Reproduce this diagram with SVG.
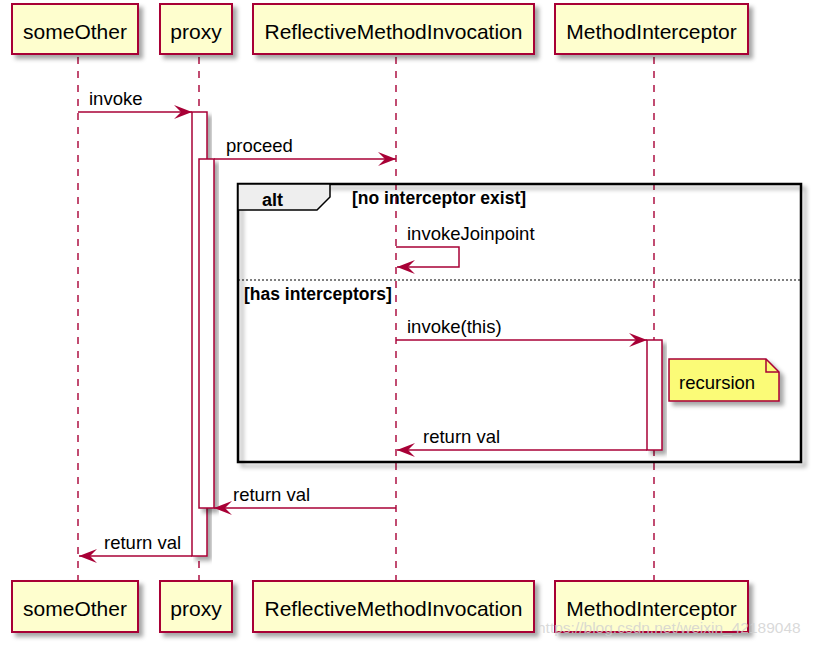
<svg xmlns="http://www.w3.org/2000/svg" width="817" height="646" viewBox="0 0 817 646">
<style>
.pbox{fill:#FEFECE;stroke:#A80036;stroke-width:2;filter:url(#sh)}
.ptxt{font-family:"Liberation Sans",Arial,sans-serif;font-size:21px;fill:#000;text-anchor:middle}
.life{stroke:#A80036;stroke-width:1.4;stroke-dasharray:7,7;fill:none}
.act{fill:#FFFFFF;stroke:#A80036;stroke-width:1.5;filter:url(#sh)}
.msg{stroke:#A80036;stroke-width:1.5;fill:none;marker-end:url(#ah)}
.mtxt{font-family:"Liberation Sans",Arial,sans-serif;font-size:18.5px;fill:#000}
.gtxt{font-family:"Liberation Sans",Arial,sans-serif;font-size:17.5px;font-weight:bold;fill:#000}
</style>
<defs>
<filter id="sh" x="-20%" y="-20%" width="150%" height="150%">
<feGaussianBlur in="SourceAlpha" stdDeviation="2"/>
<feOffset dx="4" dy="4" result="b"/>
<feFlood flood-color="#000" flood-opacity="0.35"/>
<feComposite in2="b" operator="in"/>
<feMerge><feMergeNode/><feMergeNode in="SourceGraphic"/></feMerge>
</filter>
<marker id="ah" viewBox="0 0 18 14" refX="18" refY="7" markerWidth="18" markerHeight="14" markerUnits="userSpaceOnUse" orient="auto">
<path d="M0,0 L18,7 L0,14 L7,7 Z" fill="#A80036"/>
</marker>
</defs>
<rect width="817" height="646" fill="#FFFFFF"/>

<g id="lifelines">
<line class="life" x1="78" y1="57" x2="78" y2="581"/>
<line class="life" x1="199" y1="57" x2="199" y2="581"/>
<line class="life" x1="396" y1="57" x2="396" y2="581"/>
<line class="life" x1="654" y1="57" x2="654" y2="581"/>
</g>

<g id="alt-frame">
<rect x="238" y="184" width="563" height="278" fill="none" stroke="#000" stroke-width="2.5" filter="url(#sh)"/>
<path d="M238,184 H330 V197 L317,210 H238 Z" fill="#EEEEEE" stroke="#000" stroke-width="1.5"/>
<text class="gtxt" x="262" y="206" style="font-size:18px">alt</text>
<text class="gtxt" x="352" y="204">[no interceptor exist]</text>
<line x1="238" y1="280" x2="801" y2="280" stroke="#000" stroke-width="1.2" stroke-dasharray="2,2"/>
<text class="gtxt" x="244" y="300">[has interceptors]</text>
</g>

<g id="activations">
<rect class="act" x="192" y="112" width="15" height="444"/>
<rect class="act" x="199" y="159" width="15" height="349"/>
<rect class="act" x="647" y="340" width="15" height="110"/>
</g>

<g id="connectors">
<line class="msg" x1="78" y1="112" x2="192" y2="112"/>
<text class="mtxt" x="89" y="105">invoke</text>
<line class="msg" x1="214" y1="159" x2="396" y2="159"/>
<text class="mtxt" x="226" y="152">proceed</text>
<path class="msg" d="M396,247 H459 V267 H397"/>
<text class="mtxt" x="407" y="240">invokeJoinpoint</text>
<line class="msg" x1="396" y1="340" x2="647" y2="340"/>
<text class="mtxt" x="407" y="333">invoke(this)</text>
<line class="msg" x1="647" y1="450" x2="397" y2="450"/>
<text class="mtxt" x="423" y="443">return val</text>
<line class="msg" x1="396" y1="508" x2="214" y2="508"/>
<text class="mtxt" x="233" y="501">return val</text>
<line class="msg" x1="192" y1="556" x2="79" y2="556"/>
<text class="mtxt" x="104" y="549">return val</text>
</g>

<g id="note-recursion">
<path d="M669,359 H766 L779,372 V401 H669 Z" fill="#FBFB77" stroke="#A80036" stroke-width="1.5" filter="url(#sh)"/>
<path d="M766,359 V372 H779" fill="none" stroke="#A80036" stroke-width="1.5"/>
<text class="mtxt" x="679" y="389">recursion</text>
</g>

<g id="p-someOther">
<rect class="pbox" x="12" y="4" width="126" height="50"/>
<text class="ptxt" x="75" y="39">someOther</text>
<rect class="pbox" x="12" y="581" width="126" height="51"/>
<text class="ptxt" x="75" y="616">someOther</text>
</g>
<g id="p-proxy">
<rect class="pbox" x="160" y="4" width="72" height="50"/>
<text class="ptxt" x="196" y="39">proxy</text>
<rect class="pbox" x="160" y="581" width="72" height="51"/>
<text class="ptxt" x="196" y="616">proxy</text>
</g>
<g id="p-ReflectiveMethodInvocation">
<rect class="pbox" x="253" y="4" width="281" height="50"/>
<text class="ptxt" x="393.5" y="39">ReflectiveMethodInvocation</text>
<rect class="pbox" x="253" y="581" width="281" height="51"/>
<text class="ptxt" x="393.5" y="616">ReflectiveMethodInvocation</text>
</g>
<g id="p-MethodInterceptor">
<rect class="pbox" x="555" y="4" width="193" height="50"/>
<text class="ptxt" x="651.5" y="39">MethodInterceptor</text>
<rect class="pbox" x="555" y="581" width="193" height="51"/>
<text class="ptxt" x="651.5" y="616">MethodInterceptor</text>
</g>

<text x="537" y="633" font-family="Liberation Sans,Arial,sans-serif" font-size="15.5px" fill="#D0D0D0" fill-opacity="0.8">https://blog.csdn.net/weixin_42189048</text>
</svg>
